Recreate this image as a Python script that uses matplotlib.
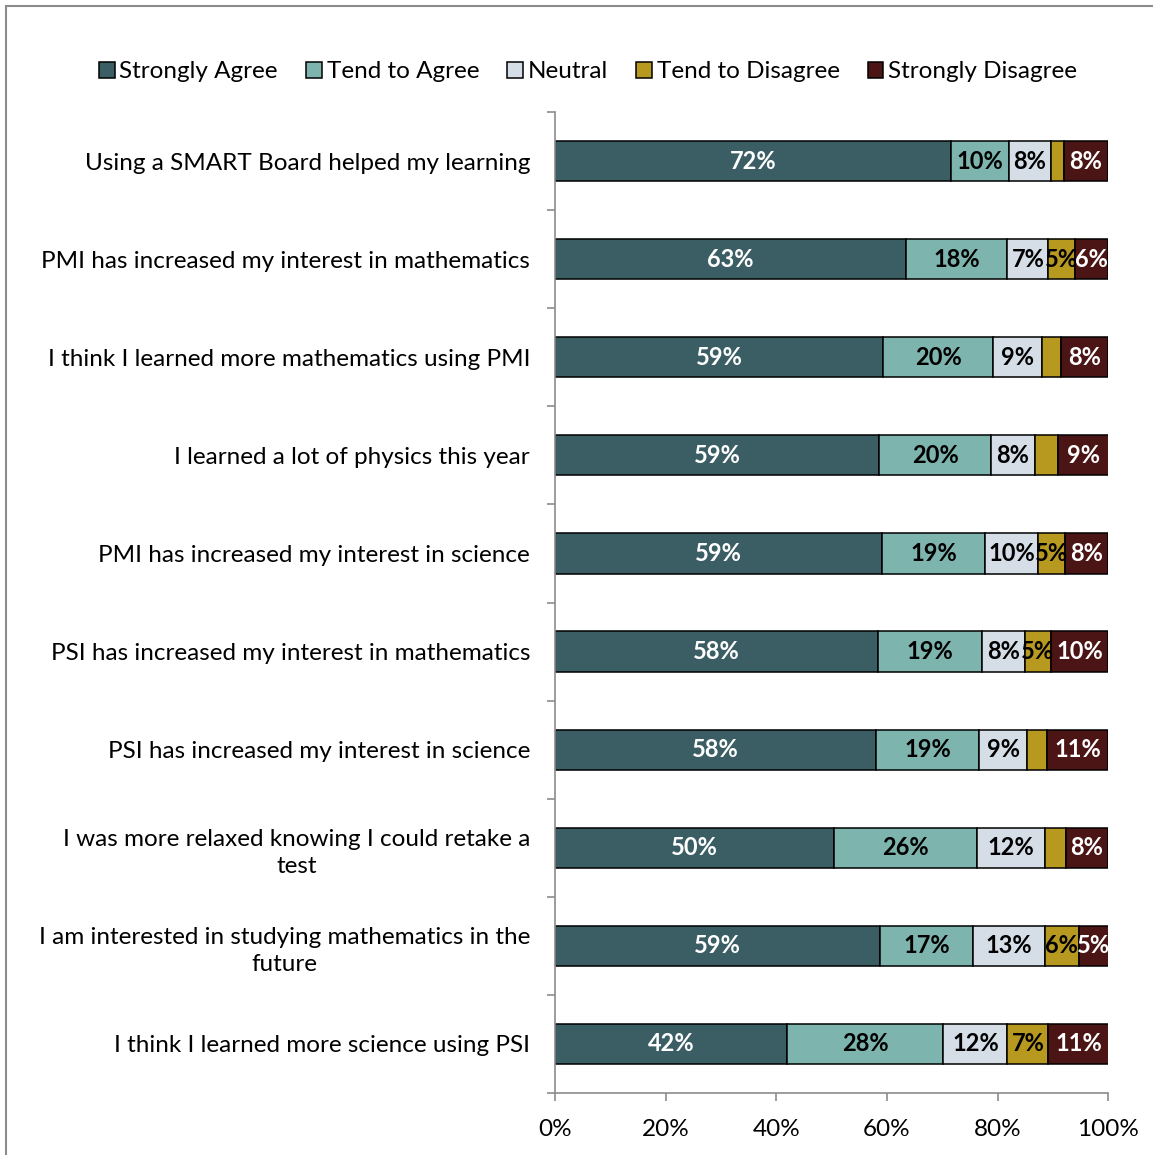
import matplotlib.pyplot as plt
import numpy as np
from matplotlib.patches import Rectangle

plt.rcParams['font.family'] = ['Lato', 'DejaVu Sans']

statements = [
    "Using a SMART Board helped my learning",
    "PMI has increased my interest in mathematics",
    "I think I learned more mathematics using PMI",
    "I learned a lot of physics this year",
    "PMI has increased my interest in science",
    "PSI has increased my interest in mathematics",
    "PSI has increased my interest in science",
    "I was more relaxed knowing I could retake a\ntest",
    "I am interested in studying mathematics in the\nfuture",
    "I think I learned more science using PSI",
]

strongly_agree = [71.6, 63.4, 59.3, 58.6, 59.2, 58.4, 58.1, 50.4, 58.7, 41.9]
tend_agree = [10.4, 18.4, 19.9, 20.2, 18.6, 18.8, 18.6, 25.8, 16.9, 28.3]
neutral = [7.7, 7.4, 8.8, 7.9, 9.6, 7.8, 8.7, 12.4, 12.9, 11.6]
tend_disagree = [2.3, 4.8, 3.5, 4.2, 4.8, 4.6, 3.6, 3.7, 6.2, 7.4]
strongly_disagree = [8.0, 6.0, 8.4, 9.2, 7.7, 10.4, 10.9, 7.6, 5.4, 10.9]

series = [
    ("Strongly Agree", strongly_agree, "#3b5e64", "white"),
    ("Tend to Agree", tend_agree, "#7db4ae", "black"),
    ("Neutral", neutral, "#d5dde6", "black"),
    ("Tend to Disagree", tend_disagree, "#b8991f", "black"),
    ("Strongly Disagree", strongly_disagree, "#4b1516", "white"),
]

FS = 17.5

fig = plt.figure(figsize=(11.53, 11.55), dpi=100)
ax = fig.add_axes([0.4814, 0.0537, 0.4797, 0.8493])

# light grey frame around the whole chart
fig.patches.append(Rectangle((6 / 1153, -0.05), 1.2, 1 - 6 / 1155 + 0.05,
                             transform=fig.transFigure, fill=False,
                             edgecolor="#8c8c8c", linewidth=1.5))

y = np.arange(len(statements))
left = np.zeros(len(statements))
for name, vals, color, txt_color in series:
    vals = np.array(vals)
    ax.barh(y, vals, left=left, height=0.41, color=color,
            edgecolor="black", linewidth=1.1, label=name)
    for yi, l, v in zip(y, left, vals):
        if v >= 4.5:
            ax.text(l + v / 2, yi, f"{v:.0f}%", ha="center", va="center",
                    color=txt_color, fontsize=17, fontweight="bold")
    left += vals

ax.set_xlim(0, 100)
ax.set_ylim(len(statements) - 0.5, -0.5)
ax.set_xticks(np.arange(0, 101, 20))
ax.set_xticklabels([f"{t}%" for t in range(0, 101, 20)], fontsize=FS)
ax.set_yticks(y)
ax.set_yticklabels(statements, fontsize=FS, multialignment="center",
                   linespacing=1.35)
ax.set_yticks(np.arange(-0.5, len(statements), 1), minor=True)

ax.tick_params(axis="y", which="major", length=0, pad=18)
ax.tick_params(axis="y", which="minor", length=6, color="#8c8c8c", width=1.2)
ax.tick_params(axis="x", length=6, color="#8c8c8c", width=1.2, pad=13)

for side in ("top", "right"):
    ax.spines[side].set_visible(False)
for side in ("left", "bottom"):
    ax.spines[side].set_color("#8c8c8c")
    ax.spines[side].set_linewidth(1.2)

leg = fig.legend(loc="center", bbox_to_anchor=(588 / 1153, 1 - 72 / 1155),
                 ncol=5, frameon=False, fontsize=FS, handlelength=0.65,
                 handleheight=0.65, handletextpad=0.2, columnspacing=1.15)

fig.savefig("out.png", dpi=100)
